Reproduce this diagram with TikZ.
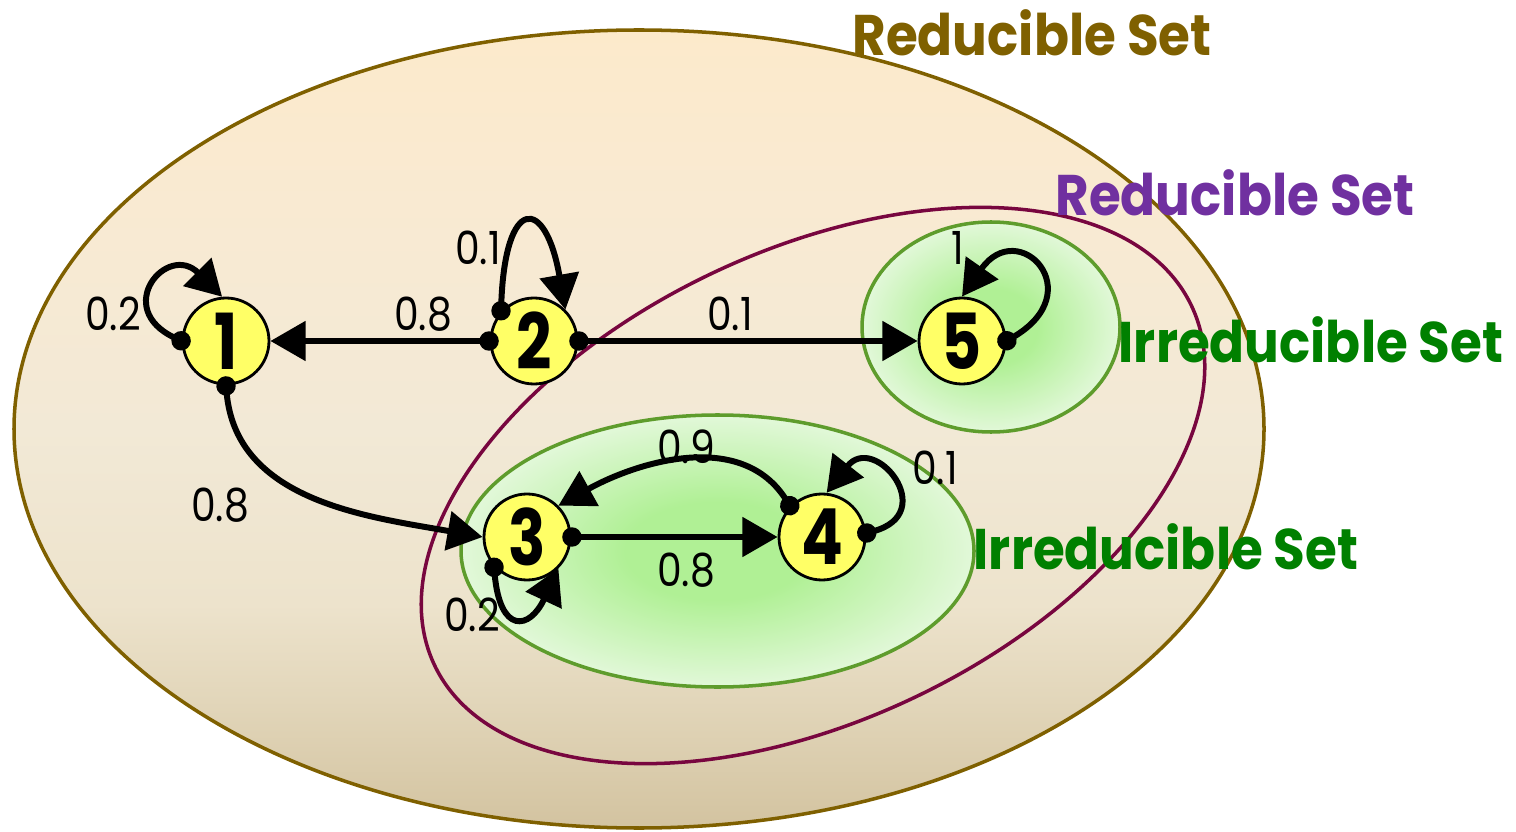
\documentclass[tikz,border=0pt]{standalone}
\usepackage{fontspec}
\usetikzlibrary{arrows.meta}
\newfontfamily\statefont[FakeStretch=0.8]{Poppins}
\newfontfamily\probfont[FakeStretch=0.86]{Poppins}
\newfontfamily\setfont[FakeStretch=0.9]{Poppins}
\definecolor{setbrown}{HTML}{7F6000}
\definecolor{setpurple}{HTML}{7030A0}
\definecolor{setgreen}{HTML}{008000}
\definecolor{ringmaroon}{HTML}{78063F}
\definecolor{ringgreen}{HTML}{5E9C2C}
\definecolor{statefill}{HTML}{FFFF66}
\definecolor{glowin}{HTML}{B0F095}
\definecolor{glowout}{HTML}{E2F8D9}
\pgfdeclareradialshading{glow}{\pgfpoint{0bp}{0bp}}{color(0bp)=(glowin); color(9bp)=(glowin); color(25bp)=(glowout); color(50bp)=(glowout)}
\pgfdeclareverticalshading{sand}{100bp}{rgb(0bp)=(0.827,0.765,0.627); rgb(25bp)=(0.827,0.765,0.627); rgb(33bp)=(0.886,0.839,0.729); rgb(39bp)=(0.929,0.890,0.800); rgb(50bp)=(0.949,0.914,0.839); rgb(64bp)=(0.976,0.918,0.824); rgb(75bp)=(0.988,0.918,0.796); rgb(100bp)=(0.988,0.918,0.796)}
\tikzset{ring/.style={line width=1pt}, every node/.style={inner sep=0pt}}

\begin{document}
\begin{tikzpicture}[
   link/.style={line width=1.7pt, {Circle[length=5.5pt]}-{Triangle[length=10pt,width=11pt]}, shorten <=-2.6pt},
   mstate/.style={circle, draw, line width=0.8pt, fill=statefill, minimum size=0.86cm, font={\statefont\bfseries\fontsize{22}{22}\selectfont}},
   prob/.style={font={\probfont\fontsize{13}{13}\selectfont}},
   setname/.style={font={\setfont\bfseries\fontsize{16.3}{16.3}\selectfont}}]
   \useasboundingbox (0,0) rectangle (15.16,8.31);
   % sets
   \draw[ring, setbrown, shading=sand] (6.39,4.02) ellipse [x radius=6.25, y radius=3.99];
   \draw[ring, ringmaroon, rotate around={25.4:(8.13,3.455)}] (8.13,3.455) ellipse [x radius=4.19, y radius=2.35];
   \draw[ring, ringgreen, shading=glow] (7.175,2.80) ellipse [x radius=2.565, y radius=1.36];
   \draw[ring, ringgreen, shading=glow] (9.91,5.04) ellipse [x radius=1.29, y radius=1.05];
   \node[setname, text=setbrown]  (rs1) at (10.32,7.98) {Reducible Set};
   \node[setname, text=setpurple] (rs2) at (12.35,6.38) {Reducible Set};
   \node[setname, text=setgreen]  (is5) at (13.11,4.91) {Irreducible Set};
   \node[setname, text=setgreen]  (is34) at (11.66,2.84) {Irreducible Set};
   % states
   \node[mstate] (s1) at (2.26,4.90) {1};
   \node[mstate] (s2) at (5.34,4.90) {2};
   \node[mstate] (s5) at (9.62,4.90) {5};
   \node[mstate] (s3) at (5.27,2.94) {3};
   \node[mstate] (s4) at (8.22,2.94) {4};
   % transitions
   \draw[link] (s2.west) -- (s1.east);
   \draw[link] (s2.east) -- (s5.west);
   \draw[link] (s3.east) -- (s4.west);
   \draw[link] (s1.south) to[out=-85,in=170] (s3.west);
   \draw[link] (s4.136) to[out=122,in=29] (s3.45);
   \draw[link] (s1.west) to[out=155,in=135,looseness=3.3] (s1.95);
   \draw[link] (s2.138) to[out=88,in=100,looseness=4.6] (s2.45);
   \draw[link] (s5.east) to[out=30,in=55,looseness=4] (s5.north);
   \draw[link] (s4.5) to[out=15,in=52,looseness=3.5] (s4.84);
   \draw[link] (s3.222) to[out=-85,in=-115,looseness=2.7] (s3.-45);
   % probabilities
   \node[prob] (p11) at (1.13,5.17) {0.2};
   \node[prob] (p21) at (4.23,5.17) {0.8};
   \node[prob] (p22) at (4.78,5.83) {0.1};
   \node[prob] (p25) at (7.30,5.17) {0.1};
   \node[prob] (p55) at (9.58,5.83) {1};
   \node[prob] (p13) at (2.20,3.26) {0.8};
   \node[prob] (p43) at (6.86,3.84) {0.9};
   \node[prob] (p44) at (9.35,3.63) {0.1};
   \node[prob] (p34) at (6.86,2.61) {0.8};
   \node[prob] (p33) at (4.72,2.16) {0.2};
\end{tikzpicture}
\end{document}
